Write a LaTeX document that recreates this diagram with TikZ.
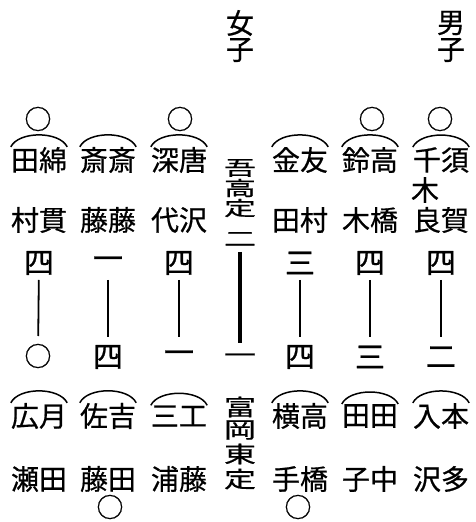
\documentclass[tikz,border=0pt]{standalone}
\usepackage{fontspec}
\newfontfamily\jp[FakeBold=0.6]{Noto Sans CJK JP}
\begin{document}
\begin{tikzpicture}[x=1pt, y=1pt,
    every node/.style={inner sep=0pt},
    nm/.style={font=\jp\fontsize{28}{28}\selectfont},
    sc/.style={font=\jp\fontsize{30}{30}\selectfont},
    mk/.style={font=\jp\fontsize{27}{27}\selectfont},
    ctr/.style={font=\jp\fontsize{32}{32}\selectfont},
    pairarc/.style={line width=1.5pt},
    link/.style={line width=1.8pt, shorten <=17pt, shorten >=20pt}]
    \useasboundingbox (0,0) rectangle (475,522);

    % 見出し
    \node[nm] (wh1) at (240,499) {女};
    \node[nm] (wh2) at (240,472) {子};
    \node[nm] (mh1) at (451,499) {男};
    \node[nm] (mh2) at (451,472) {子};

    % 男子 一
    \node[mk] (m1o) at (440,403) {○};
    \node[nm] (m1a) at (441,362) {千須};
    \node[nm] (m1k) at (425,332) {木};
    \node[nm] (m1b) at (441,302) {良賀};
    \node[sc] (m1s) at (441,259) {四};
    \node[sc] (m1t) at (441,165) {二};
    \node[nm] (m1c) at (441,106) {入本};
    \node[nm] (m1d) at (441,43) {沢多};
    \draw[link] (m1s.center) -- (m1t.center);
    \draw[pairarc] (m1a.north west) .. controls +(8,16) and +(-8,16) .. (m1a.north east);
    \draw[pairarc] (m1c.north west) .. controls +(8,16) and +(-8,16) .. (m1c.north east);

    % 男子 二
    \node[mk] (m2o) at (372,403) {○};
    \node[nm] (m2a) at (370,362) {鈴高};
    \node[nm] (m2b) at (370,302) {木橋};
    \node[sc] (m2s) at (370,259) {四};
    \node[sc] (m2t) at (370,165) {三};
    \node[nm] (m2c) at (370,106) {田田};
    \node[nm] (m2d) at (370,43) {子中};
    \draw[link] (m2s.center) -- (m2t.center);
    \draw[pairarc] (m2a.north west) .. controls +(8,16) and +(-8,16) .. (m2a.north east);
    \draw[pairarc] (m2c.north west) .. controls +(8,16) and +(-8,16) .. (m2c.north east);

    % 男子 三
    \node[nm] (m3a) at (300,362) {金友};
    \node[nm] (m3b) at (300,302) {田村};
    \node[sc] (m3s) at (300,259) {三};
    \node[sc] (m3t) at (300,165) {四};
    \node[nm] (m3c) at (300,106) {横高};
    \node[nm] (m3d) at (300,43) {手橋};
    \node[mk] (m3o) at (298,15) {○};
    \draw[link] (m3s.center) -- (m3t.center);
    \draw[pairarc] (m3a.north west) .. controls +(8,16) and +(-8,16) .. (m3a.north east);
    \draw[pairarc] (m3c.north west) .. controls +(8,16) and +(-8,16) .. (m3c.north east);

    % 女子 団体
    \foreach \c/\y [count=\i] in {吾/354,高/334,定/314}
        \node[ctr] (ct\i) at (240,\y) {\scalebox{1}[0.62]{\c}};
    \node[ctr] (cs1) at (240,283) {\scalebox{1}[0.62]{二}};
    \node[ctr] (cs2) at (240,164) {\scalebox{1}[0.62]{一}};
    \foreach \c/\y [count=\i] in {富/115,岡/92,東/68,定/43}
        \node[ctr] (cb\i) at (240,\y) {\scalebox{1}[0.7]{\c}};
    \draw[link, line width=3.2pt, shorten <=13pt, shorten >=15pt] (cs1.center) -- (cs2.center);

    % 女子 一
    \node[mk] (w1o) at (180,403) {○};
    \node[nm] (w1a) at (179,362) {深唐};
    \node[nm] (w1b) at (179,302) {代沢};
    \node[sc] (w1s) at (179,259) {四};
    \node[sc] (w1t) at (179,165) {一};
    \node[nm] (w1c) at (179,106) {三工};
    \node[nm] (w1d) at (179,43) {浦藤};
    \draw[link] (w1s.center) -- (w1t.center);
    \draw[pairarc] (w1a.north west) .. controls +(8,16) and +(-8,16) .. (w1a.north east);
    \draw[pairarc] (w1c.north west) .. controls +(8,16) and +(-8,16) .. (w1c.north east);

    % 女子 二
    \node[nm] (w2a) at (108,362) {斎斎};
    \node[nm] (w2b) at (108,302) {藤藤};
    \node[sc] (w2s) at (108,259) {一};
    \node[sc] (w2t) at (108,165) {四};
    \node[nm] (w2c) at (108,106) {佐吉};
    \node[nm] (w2d) at (108,43) {藤田};
    \node[mk] (w2o) at (110,15) {○};
    \draw[link] (w2s.center) -- (w2t.center);
    \draw[pairarc] (w2a.north west) .. controls +(8,16) and +(-8,16) .. (w2a.north east);
    \draw[pairarc] (w2c.north west) .. controls +(8,16) and +(-8,16) .. (w2c.north east);

    % 女子 三
    \node[mk] (w3o) at (38,403) {○};
    \node[nm] (w3a) at (39,362) {田綿};
    \node[nm] (w3b) at (39,302) {村貫};
    \node[sc] (w3s) at (39,259) {四};
    \node[mk] (w3t) at (38,166) {○};
    \node[nm] (w3c) at (39,106) {広月};
    \node[nm] (w3d) at (39,43) {瀬田};
    \draw[link] (w3s.center) -- (w3t.center);
    \draw[pairarc] (w3a.north west) .. controls +(8,16) and +(-8,16) .. (w3a.north east);
    \draw[pairarc] (w3c.north west) .. controls +(8,16) and +(-8,16) .. (w3c.north east);
\end{tikzpicture}
\end{document}
